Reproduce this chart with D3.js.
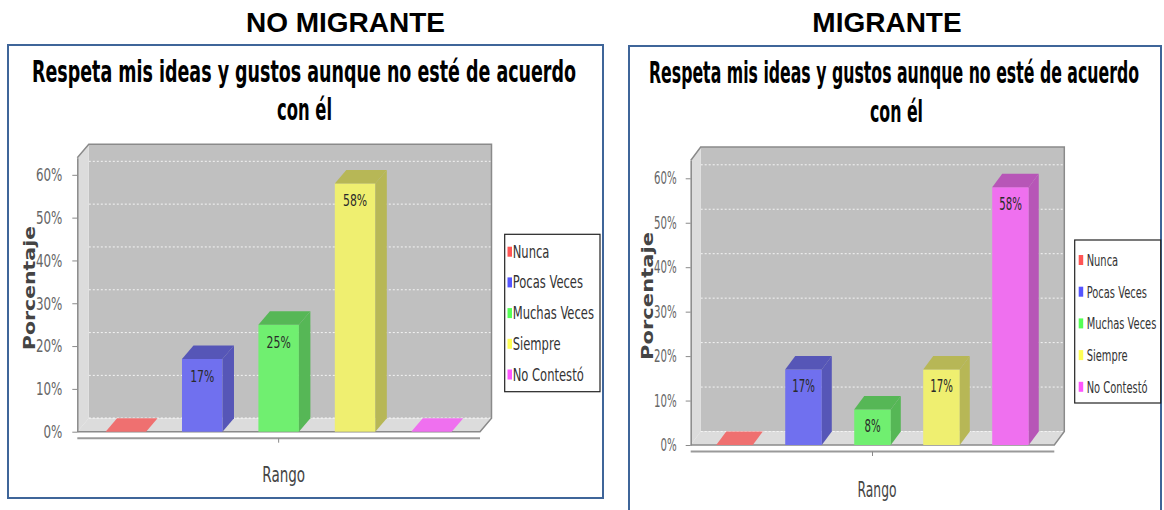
<!DOCTYPE html>
<html>
<head>
<meta charset="utf-8">
<script src="https://cdn.jsdelivr.net/npm/d3@7"></script>
<style>
  body { margin: 0; background: #fff; }
  svg { display: block; }
</style>
</head>
<body>
<svg id="viz" width="1164" height="510"></svg>
<script>
// data
var categories = ["Nunca", "Pocas Veces", "Muchas Veces", "Siempre", "No Contestó"]
var noMigranteValues = [0, 17, 25, 58, 0]
var migranteValues = [0, 17, 8, 17, 58]
var yTicks = [0, 10, 20, 30, 40, 50, 60]
var headers = ["NO MIGRANTE", "MIGRANTE"]
var titleLines = ["Respeta mis ideas y gustos aunque no esté de acuerdo", "con él"]
var xLabel = "Rango"
var yLabel = "Porcentaje"
var baseColors = ["#ff5555", "#5555ff", "#55ff55", "#ffff55", "#ff55ff"]

var svg = d3.select("#viz")
var font = "'DejaVu Sans', Verdana, sans-serif"

// layout of each panel (pixel measures)
var panels = [
  { header: headers[0], values: noMigranteValues, hx: 345.5, box: [8, 45, 595, 453],
    t1: [32, 82, 544], t2: [277, 120, 55],
    x0: 77.3, x1: 480, y0: 431.7, ytop: 157.7, dx: 11.5, dy: -13.5,
    sx: 0.66, tickFs: 18, tickPad: 15, barFs: 16.5, legFs: 17.5,
    leg: [504.7, 234.3, 95.3, 157.4], legY0: 251.7, legStep: 30.7, swX: 2.8, txX: 8,
    yl: [30, 288, 124], xl: [283.7, 481.7] },
  { header: headers[1], values: migranteValues, hx: 887, box: [629, 46, 532, 480],
    t1: [649, 83, 490], t2: [870, 122, 53],
    x0: 690.7, x1: 1054.3, y0: 445, ytop: 160.5, dx: 10, dy: -13.5,
    sx: 0.6, tickFs: 17, tickPad: 14, barFs: 17, legFs: 16.5,
    leg: [1074.7, 240, 86, 163], legY0: 260, legStep: 31.7, swX: 4, txX: 12,
    yl: [648.3, 296, 128], xl: [877, 496.7] }
]

function squished(g, x, y, str, sx, size, anchor, color) {
  return g.append("text")
    .attr("transform", "translate(" + x + "," + y + ") scale(" + sx + ",1)")
    .attr("text-anchor", anchor)
    .attr("font-family", font)
    .attr("font-size", size)
    .attr("fill", color)
    .text(str)
}

panels.forEach(function(p) {
  var g = svg.append("g")

  // header over the box
  g.append("text")
    .attr("x", p.hx).attr("y", 31.7)
    .attr("text-anchor", "middle")
    .attr("font-family", "'Liberation Sans', Arial, sans-serif")
    .attr("font-weight", "bold").attr("font-size", 28)
    .text(p.header)

  g.append("rect")
    .attr("x", p.box[0]).attr("y", p.box[1])
    .attr("width", p.box[2]).attr("height", p.box[3])
    .attr("fill", "#fff").attr("stroke", "#3f6599").attr("stroke-width", 2)

  // chart title, two lines
  ;[p.t1, p.t2].forEach(function(t, i) {
    g.append("text")
      .attr("x", t[0]).attr("y", t[1])
      .attr("font-family", font).attr("font-weight", "bold")
      .attr("font-size", 30)
      .attr("textLength", t[2]).attr("lengthAdjust", "spacingAndGlyphs")
      .text(titleLines[i])
  })

  var x = d3.scaleBand().domain(categories).range([p.x0, p.x1])
    .paddingInner(0.47).paddingOuter(0.37)
  var y = d3.scaleLinear().domain([0, 64]).range([p.y0, p.ytop])
  var dx = p.dx, dy = p.dy

  // back wall
  g.append("rect")
    .attr("x", p.x0 + dx).attr("y", p.ytop + dy)
    .attr("width", p.x1 - p.x0).attr("height", p.y0 - p.ytop)
    .attr("fill", "#c0c0c0")

  // grid on back wall
  g.append("g").selectAll("line")
    .data(yTicks)
    .enter()
    .append("line")
    .attr("x1", p.x0 + dx).attr("x2", p.x1 + dx)
    .attr("y1", d => y(d) + dy).attr("y2", d => y(d) + dy)
    .attr("stroke", "#f4f4f4").attr("stroke-width", 1)
    .attr("stroke-dasharray", "2,2")

  // left wall and floor
  var line = d3.line()
  g.append("path")
    .attr("d", line([[p.x0, p.ytop], [p.x0 + dx, p.ytop + dy], [p.x0 + dx, p.y0 + dy], [p.x0, p.y0]]) + "Z")
    .attr("fill", "#dcdcdc")
  g.append("path")
    .attr("d", line([[p.x0, p.y0], [p.x0 + dx, p.y0 + dy], [p.x1 + dx, p.y0 + dy], [p.x1, p.y0]]) + "Z")
    .attr("fill", "#dcdcdc")
  g.append("line")
    .attr("x1", p.x0 + dx).attr("x2", p.x1 + dx)
    .attr("y1", p.y0 + dy).attr("y2", p.y0 + dy)
    .attr("stroke", "#f4f4f4").attr("stroke-dasharray", "2,2")
  g.append("path")
    .attr("d", line([[p.x0, p.ytop], [p.x0 + dx, p.ytop + dy], [p.x1 + dx, p.ytop + dy], [p.x1 + dx, p.y0 + dy], [p.x1, p.y0], [p.x0, p.y0]]))
    .attr("fill", "none").attr("stroke", "#8a8a8a").attr("stroke-width", 1.5)

  // bars
  var bw = x.bandwidth()
  var bars = g.append("g").selectAll("g")
    .data(p.values.map((v, i) => ({ cat: categories[i], v: v, i: i })))
    .enter()
    .append("g")

  bars.each(function(d) {
    var b = d3.select(this)
    var bx = x(d.cat), yv = y(d.v)
    var front = d3.interpolateRgb(baseColors[d.i], "#c0c0c0")(0.25)
    var dark = d3.rgb(front).darker(0.75).toString()
    if (d.v > 0) {
      b.append("rect")
        .attr("x", bx).attr("y", yv)
        .attr("width", bw).attr("height", p.y0 - yv)
        .attr("fill", front)
      b.append("path")
        .attr("d", line([[bx + bw, yv], [bx + bw + dx, yv + dy], [bx + bw + dx, p.y0 + dy], [bx + bw, p.y0]]) + "Z")
        .attr("fill", dark)
    }
    b.append("path")
      .attr("d", line([[bx, yv], [bx + dx, yv + dy], [bx + bw + dx, yv + dy], [bx + bw, yv]]) + "Z")
      .attr("fill", d.v > 0 ? dark : front)
    if (d.v > 0) {
      squished(b, bx + bw / 2, yv + 23, d.v + "%", p.sx, p.barFs, "middle", "#2a2a2a")
    }
  })

  // y axis
  var yAxis = g.append("g")
    .attr("transform", "translate(" + p.x0 + ",0)")
    .call(d3.axisLeft(y).tickValues(yTicks).tickSizeInner(5).tickSizeOuter(0)
      .tickPadding(p.tickPad).tickFormat(d => d + "%"))
  yAxis.select(".domain").attr("stroke", "#8a8a8a").attr("stroke-width", 1.5)
  yAxis.selectAll(".tick line").attr("stroke", "#8a8a8a")
  yAxis.selectAll(".tick text")
    .attr("font-family", font).attr("font-size", p.tickFs)
    .attr("fill", "#666")
    .attr("transform", "scale(" + p.sx + ",1)")
    .attr("x", -p.tickPad / p.sx)

  // category axis below the floor
  g.append("line")
    .attr("x1", p.x0).attr("x2", p.x1)
    .attr("y1", p.y0 + 6.5).attr("y2", p.y0 + 6.5)
    .attr("stroke", "#9a9a9a").attr("stroke-width", 2)
  g.append("line")
    .attr("x1", (p.x0 + p.x1) / 2).attr("x2", (p.x0 + p.x1) / 2)
    .attr("y1", p.y0 + 6.5).attr("y2", p.y0 + 11)
    .attr("stroke", "#8a8a8a")

  squished(g, p.xl[0], p.xl[1], xLabel, p.sx, 20.5, "middle", "#444")

  g.append("text")
    .attr("transform", "translate(" + (p.yl[0] + 5) + "," + p.yl[1] + ") rotate(-90)")
    .attr("text-anchor", "middle")
    .attr("font-family", font).attr("font-weight", "bold")
    .attr("font-size", 15).attr("fill", "#444")
    .attr("textLength", p.yl[2]).attr("lengthAdjust", "spacingAndGlyphs")
    .text(yLabel)

  // legend
  var lg = g.append("g")
  lg.append("rect")
    .attr("x", p.leg[0]).attr("y", p.leg[1])
    .attr("width", p.leg[2]).attr("height", p.leg[3])
    .attr("fill", "#fff").attr("stroke", "#222").attr("stroke-width", 1.2)
  var items = lg.selectAll("g.item")
    .data(categories)
    .enter()
    .append("g")
    .attr("class", "item")
  items.append("rect")
    .attr("x", p.leg[0] + p.swX)
    .attr("y", (d, i) => p.legY0 + i * p.legStep - 5)
    .attr("width", 4.5).attr("height", 10)
    .attr("fill", (d, i) => baseColors[i])
  items.each(function(d, i) {
    squished(d3.select(this), p.leg[0] + p.txX, p.legY0 + i * p.legStep + 6, d, p.sx, p.legFs, "start", "#333")
  })
})
</script>
</body>
</html>
